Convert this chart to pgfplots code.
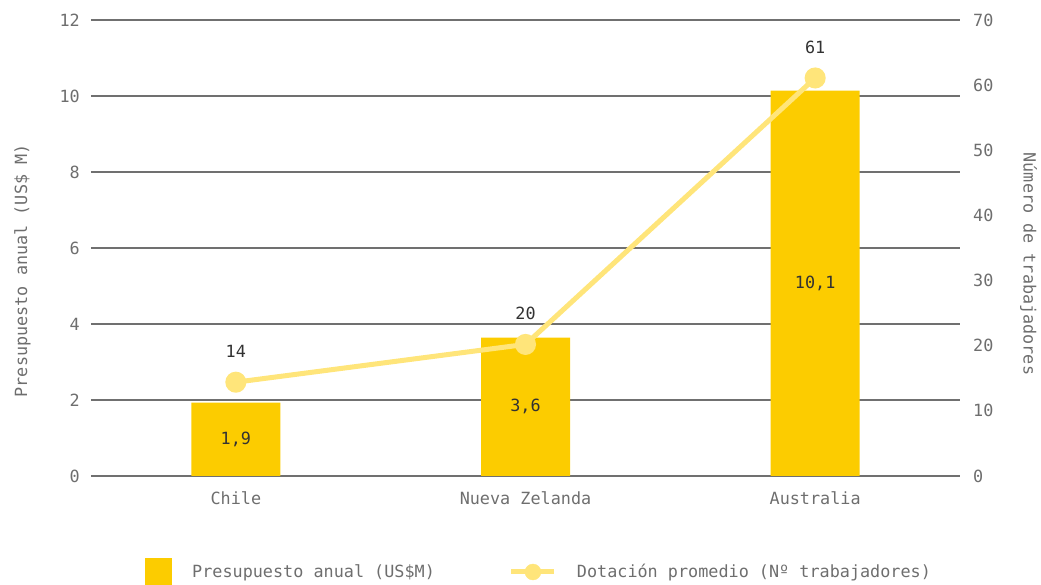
\documentclass[border=0pt]{standalone}
\usepackage{pgfplots}
\pgfplotsset{compat=1.18}
\usepackage{fontspec}
\setmainfont{DejaVu Sans Mono}
\setmonofont{DejaVu Sans Mono}
\definecolor{barc}{RGB}{252,204,0}
\definecolor{linec}{RGB}{255,229,122}
\definecolor{gridc}{RGB}{112,112,112}
\definecolor{txtc}{RGB}{110,110,110}
\definecolor{valc}{RGB}{50,50,50}
\begin{document}
\fontsize{16.8}{20}\selectfont
\begin{tikzpicture}
\path[use as bounding box] (-91pt,-109pt) rectangle (950pt,476pt);
\begin{axis}[
  at={(0,0)}, anchor=south west,
  scale only axis, width=869pt, height=456pt,
  xmin=-0.5, xmax=2.5, ymin=0, ymax=12,
  xtick={0,1,2}, xticklabels={Chile,Nueva Zelanda,Australia},
  ytick={0,2,...,12},
  axis line style={draw=none},
  major tick length=0pt,
  ymajorgrids, grid style={gridc, line width=1.2pt},
  /pgf/number format/assume math mode=true,
  ticklabel style={font=\fontsize{16.8}{20}\selectfont, text=txtc},
  yticklabel style={inner sep=0pt, anchor=east, xshift=-11pt},
  xticklabel style={inner sep=0pt, anchor=north, yshift=-15pt},
  ylabel={Presupuesto anual (US\$ M)},
  ylabel style={at={(axis description cs:-0.079,0.45)}, anchor=center, rotate=0, text=txtc, font=\fontsize{16.8}{20}\selectfont},
  legend columns=2,
  legend style={at={(rel axis cs:0,0)}, anchor=west, xshift=54pt, yshift=-96pt,
    draw=none, fill=none, inner sep=0pt, font=\fontsize{16.8}{20}\selectfont, text=txtc,
    /tikz/every odd column/.append style={column sep=18pt},
    /tikz/every even column/.append style={column sep=72pt}},
  legend cell align=left,
]
\addplot[ybar, bar width=89pt, fill=barc, draw=none,
  point meta=y,
  visualization depends on={rawy \as \rawy},
  nodes near coords={\pgfmathprintnumber[fixed,precision=1,use comma,assume math mode=true]{\pgfplotspointmeta}},
  nodes near coords style={anchor=center, text=valc, font=\fontsize{16.8}{20}\selectfont},
  every node near coord/.append style={shift={(axis direction cs:0,-\rawy/2)}},
  legend image code/.code={\fill[barc] (0pt,-13.5pt) rectangle (27pt,13.5pt);}
] coordinates {(0,1.93) (1,3.64) (2,10.14)};
\addlegendentry{Presupuesto anual (US\$M)}
\addlegendimage{legend image code/.code={\draw[linec, line width=5pt] (0pt,0pt) -- (43pt,0pt); \fill[linec] (21.5pt,0pt) circle (8pt);}}
\addlegendentry{Dotación promedio (Nº trabajadores)}
\end{axis}
\begin{axis}[
  at={(0,0)}, anchor=south west,
  scale only axis, width=869pt, height=456pt,
  xmin=-0.5, xmax=2.5, ymin=0, ymax=70,
  ytick={0,10,...,70},
  axis x line=none,
  axis y line*=right,
  axis line style={draw=none},
  major tick length=0pt,
  /pgf/number format/assume math mode=true,
  ticklabel style={font=\fontsize{16.8}{20}\selectfont, text=txtc},
  yticklabel style={inner sep=0pt, anchor=west, xshift=13pt},
  ylabel={Número de trabajadores},
  ylabel style={at={(axis description cs:1.079,0.465)}, anchor=center, rotate=180, text=txtc, font=\fontsize{16.8}{20}\selectfont},
  clip=false,
]
\addplot[linec, line width=5pt, mark=*, mark size=8pt, mark options={fill=linec, draw=none},
  point meta=y,
  nodes near coords={\pgfmathprintnumber[fixed,precision=0,assume math mode=true]{\pgfplotspointmeta}},
  nodes near coords style={anchor=center, yshift=31pt, text=valc, font=\fontsize{16.8}{20}\selectfont},
] coordinates {(0,14.4) (1,20.2) (2,61.1)};
\end{axis}
\end{tikzpicture}
\end{document}
